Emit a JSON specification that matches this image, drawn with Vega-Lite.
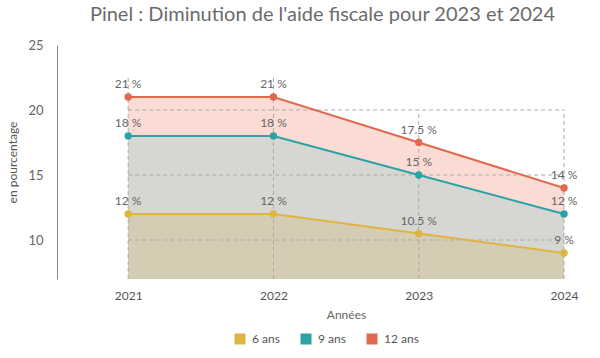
{
  "$schema": "https://vega.github.io/schema/vega-lite/v6.json",
  "width": 523,
  "height": 234,
  "autosize": "none",
  "padding": {"left": 57, "top": 45, "right": 20, "bottom": 79},
  "background": "white",
  "title": {
    "text": "Pinel : Diminution de l'aide fiscale pour 2023 et 2024",
    "font": "Lato",
    "fontSize": 20,
    "fontWeight": "normal",
    "color": "#6b6b6b",
    "anchor": "middle",
    "frame": "group",
    "dx": 4,
    "offset": 14
  },
  "data": {
    "values": [
      {"year": 2021, "series": "6 ans", "value": 12, "label": "12 %"},
      {"year": 2022, "series": "6 ans", "value": 12, "label": "12 %"},
      {"year": 2023, "series": "6 ans", "value": 10.5, "label": "10.5 %"},
      {"year": 2024, "series": "6 ans", "value": 9, "label": "9 %"},
      {"year": 2021, "series": "9 ans", "value": 18, "label": "18 %"},
      {"year": 2022, "series": "9 ans", "value": 18, "label": "18 %"},
      {"year": 2023, "series": "9 ans", "value": 15, "label": "15 %"},
      {"year": 2024, "series": "9 ans", "value": 12, "label": "12 %"},
      {"year": 2021, "series": "12 ans", "value": 21, "label": "21 %"},
      {"year": 2022, "series": "12 ans", "value": 21, "label": "21 %"},
      {"year": 2023, "series": "12 ans", "value": 17.5, "label": "17.5 %"},
      {"year": 2024, "series": "12 ans", "value": 14, "label": "14 %"}
    ]
  },
  "encoding": {
    "x": {
      "field": "year",
      "type": "quantitative",
      "scale": {"domain": [2020.51, 2024.11], "nice": false, "zero": false},
      "axis": {
        "values": [2021, 2022, 2023, 2024],
        "format": "d",
        "grid": false,
        "domain": false,
        "ticks": false,
        "labelPadding": 11,
        "labelFont": "Lato",
        "labelFontSize": 12,
        "labelColor": "#555",
        "labelFlush": false,
        "title": "Années",
        "titleFont": "Lato",
        "titleFontSize": 12,
        "titleFontWeight": "normal",
        "titleColor": "#666",
        "titleX": 289,
        "titleAnchor": null,
        "titleAlign": "center",
        "titlePadding": 8
      }
    },
    "y": {
      "field": "value",
      "type": "quantitative",
      "scale": {"domain": [7, 25], "nice": false, "zero": false},
      "axis": {
        "values": [10, 15, 20, 25],
        "grid": false,
        "ticks": false,
        "domain": true,
        "domainColor": "#888",
        "labelPadding": 14,
        "labelFont": "Lato",
        "labelFontSize": 13,
        "labelColor": "#666",
        "title": "en pourcentage",
        "titleFont": "Lato",
        "titleFontSize": 12,
        "titleFontWeight": "normal",
        "titleColor": "#555",
        "titlePadding": 8
      }
    }
  },
  "layer": [
    {
      "transform": [{"filter": {"field": "series", "equal": "12 ans"}}],
      "mark": {"type": "area", "fill": "#fadcd5", "opacity": 1},
      "encoding": {"y2": {"datum": 7}}
    },
    {
      "transform": [{"filter": {"field": "series", "equal": "9 ans"}}],
      "mark": {"type": "area", "fill": "#d6d6d3", "opacity": 1},
      "encoding": {"y2": {"datum": 7}}
    },
    {
      "transform": [{"filter": {"field": "series", "equal": "6 ans"}}],
      "mark": {"type": "area", "fill": "#d4cdb4", "opacity": 1},
      "encoding": {"y2": {"datum": 7}}
    },
    {
      "transform": [{"filter": {"field": "series", "equal": "6 ans"}}],
      "mark": {"type": "rule", "stroke": "#aaa", "strokeDash": [4, 3], "strokeWidth": 1},
      "encoding": {
        "x": {"field": "year", "type": "quantitative"},
        "y": {"datum": 7},
        "y2": {"datum": 20}
      }
    },
    {
      "transform": [{"filter": {"field": "series", "equal": "12 ans"}}, {"filter": {"field": "year", "lte": 2022}}],
      "mark": {"type": "rule", "stroke": "#aaa", "strokeDash": [4, 3], "strokeWidth": 1},
      "encoding": {
        "x": {"field": "year", "type": "quantitative"},
        "y": {"datum": 20},
        "y2": {"datum": 22.5}
      }
    },
    {
      "transform": [{"filter": {"field": "label", "equal": "21 %"}}, {"filter": {"field": "year", "equal": 2021}}],
      "mark": {"type": "rule", "stroke": "#aaa", "strokeDash": [4, 3], "strokeWidth": 1},
      "encoding": {"y": {"datum": 10}, "x": {"datum": 2021}, "x2": {"datum": 2024}}
    },
    {
      "transform": [{"filter": {"field": "label", "equal": "21 %"}}, {"filter": {"field": "year", "equal": 2021}}],
      "mark": {"type": "rule", "stroke": "#aaa", "strokeDash": [4, 3], "strokeWidth": 1},
      "encoding": {"y": {"datum": 15}, "x": {"datum": 2021}, "x2": {"datum": 2024}}
    },
    {
      "transform": [{"filter": {"field": "label", "equal": "21 %"}}, {"filter": {"field": "year", "equal": 2021}}],
      "mark": {"type": "rule", "stroke": "#aaa", "strokeDash": [4, 3], "strokeWidth": 1},
      "encoding": {"y": {"datum": 20}, "x": {"datum": 2021}, "x2": {"datum": 2024}}
    },
    {
      "mark": {"type": "line", "strokeWidth": 2},
      "encoding": {
        "color": {
          "field": "series",
          "type": "nominal",
          "scale": {"domain": ["6 ans", "9 ans", "12 ans"], "range": ["#e0b440", "#2aa3a5", "#e06a4e"]}
        }
      }
    },
    {
      "mark": {"type": "point", "filled": true, "size": 55, "opacity": 1},
      "encoding": {
        "color": {
          "field": "series",
          "type": "nominal",
          "scale": {"domain": ["6 ans", "9 ans", "12 ans"], "range": ["#e0b440", "#2aa3a5", "#e06a4e"]}
        }
      }
    },
    {
      "mark": {"type": "text", "dy": -6, "fontSize": 12, "color": "#666", "font": "Lato", "baseline": "bottom"},
      "encoding": {"text": {"field": "label"}}
    }
  ],
  "resolve": {"scale": {"color": "shared"}},
  "config": {
    "view": {"stroke": null},
    "font": "Lato",
    "text": {"font": "Lato"},
    "legend": {
      "title": null,
      "orient": "none",
      "direction": "horizontal",
      "legendX": 177,
      "legendY": 288,
      "symbolType": "square",
      "symbolSize": 121,
      "symbolStrokeWidth": 0,
      "symbolOpacity": 1,
      "labelFont": "Lato",
      "labelFontSize": 12,
      "labelColor": "#555",
      "labelOffset": 6,
      "columnPadding": 20
    }
  }
}
